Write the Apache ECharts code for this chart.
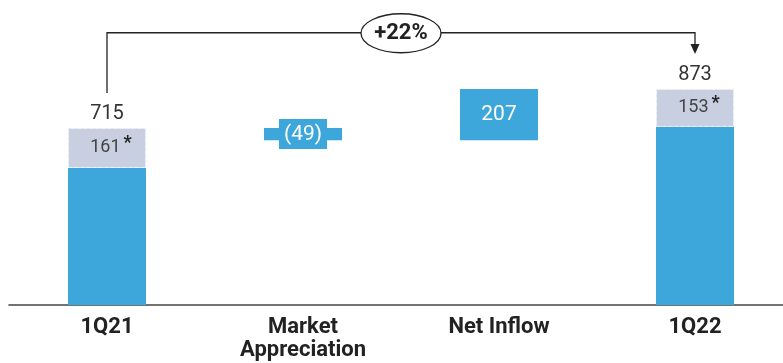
<!DOCTYPE html>
<html><head><meta charset="utf-8">
<script src="https://cdn.jsdelivr.net/npm/echarts@6/dist/echarts.min.js"></script>
<style>html,body{margin:0;padding:0;background:#fff}#c{width:783px;height:363px}</style>
</head><body><div id="c"></div>
<script>
const categories = ['1Q21', 'Market\nAppreciation', 'Net Inflow', '1Q22'];
const totals = [715, null, null, 873];
const starred = [161, null, null, 153];
const changes = [null, -49, 207, null];

// derived stacks
const coreVals = totals.map((t, i) => t == null ? null : t - starred[i]);
let running = totals[0];
const baseVals = [], deltaVals = [];
changes.forEach((c, i) => {
  if (c == null) { baseVals.push(null); deltaVals.push(null); return; }
  const next = running + c;
  baseVals.push(Math.min(running, next));
  deltaVals.push(Math.abs(c));
  running = next;
});

const BLUE = '#3da6db';
const LIGHT = '#c8cfe1';
const chart = echarts.init(document.getElementById('c'));
chart.setOption({
  animation: false,
  textStyle: { fontFamily: 'Roboto' },
  grid: { left: 9, right: -10, top: 8, bottom: 58, containLabel: false, outerBoundsMode: 'none' },
  xAxis: {
    type: 'category', data: categories,
    axisLine: { lineStyle: { color: '#444', width: 1.6 } },
    axisTick: { show: false },
    axisLabel: { color: '#222', fontWeight: 'bold', fontSize: 22, lineHeight: 23, margin: 11,
      fontFamily: 'Roboto', hideOverlap: false }
  },
  yAxis: { type: 'value', min: 0, max: 1200, show: false, splitLine: { show: false } },
  series: [
    { type: 'bar', stack: 's', barWidth: 78, data: baseVals, itemStyle: { color: 'transparent' }, silent: true },
    { type: 'bar', stack: 's', data: coreVals, itemStyle: { color: BLUE } },
    { type: 'bar', stack: 's', data: starred,
      itemStyle: { color: LIGHT, borderColor: '#eef1f7', borderWidth: 1, borderType: 'dashed' },
      label: { show: true, position: 'inside', offset: [4, 0],
        formatter: p => '{n|' + p.value + '}{s|*}',
        rich: { n: { fontSize: 18, color: '#444', fontFamily: 'Roboto' }, s: { fontSize: 18, color: '#222', padding: [0, 0, 9, 3], fontWeight: 'bold' } } } },
    { type: 'bar', stack: 's', data: deltaVals, itemStyle: { color: BLUE },
      label: { show: true, position: 'inside', color: '#fff', fontFamily: 'Roboto',
        formatter: p => changes[p.dataIndex] < 0 ? '{a|(' + Math.abs(changes[p.dataIndex]) + ')}' : '{b|' + changes[p.dataIndex] + '}',
        rich: {
          a: { fontSize: 21, color: '#fff', backgroundColor: BLUE, padding: [5, 5, 4, 5] },
          b: { fontSize: 21, color: '#fff' }
        } } },
    { type: 'bar', stack: 's', data: totals.map(t => t == null ? null : 0), itemStyle: { color: 'transparent' },
      label: { show: true, position: 'top', distance: 4, color: '#333', fontSize: 20, fontFamily: 'Roboto',
        formatter: p => String(totals[p.dataIndex]) } }
  ]
});

// connector annotation
const x0 = chart.convertToPixel({ xAxisIndex: 0 }, 0);
const x3 = chart.convertToPixel({ xAxisIndex: 0 }, 3);
const yA = chart.convertToPixel({ yAxisIndex: 0 }, totals[0]) - 35;
const yB = chart.convertToPixel({ yAxisIndex: 0 }, totals[3]) - 35;
const yH = chart.convertToPixel({ yAxisIndex: 0 }, 1100);
const xm = (chart.convertToPixel({ xAxisIndex: 0 }, 1) + chart.convertToPixel({ xAxisIndex: 0 }, 2)) / 2;
const pct = Math.round((totals[3] / totals[0] - 1) * 100);
chart.setOption({
  graphic: [
    { type: 'polyline', shape: { points: [[x0, yA], [x0, yH], [x3, yH], [x3, yB - 8]] }, style: { stroke: '#222', lineWidth: 1.3, fill: null } },
    { type: 'polygon', shape: { points: [[x3 - 4.5, yB - 10], [x3 + 4.5, yB - 10], [x3, yB]] }, style: { fill: '#222' } },
    { type: 'ellipse', shape: { cx: xm, cy: yH + 0.5, rx: 40, ry: 19.5 }, style: { fill: '#fff', stroke: '#222', lineWidth: 1.3 } },
    { type: 'text', x: xm, y: yH + 1, style: { text: '+' + pct + '%', fontSize: 22, fontWeight: 'bold', fill: '#222', align: 'center', verticalAlign: 'middle', fontFamily: 'Roboto' } }
  ]
});
</script></body></html>
